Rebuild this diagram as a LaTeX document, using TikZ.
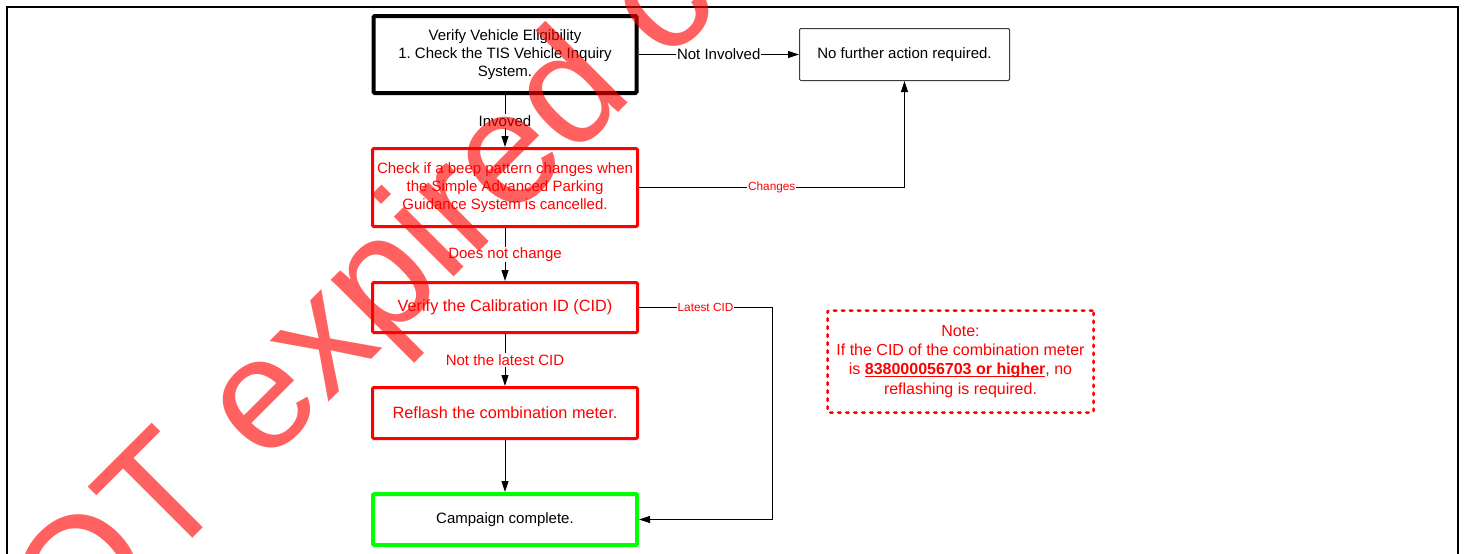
\documentclass[tikz,border=0pt]{standalone}
\usepackage{fontspec}
\setmainfont{Liberation Sans}
\usetikzlibrary{arrows.meta}
\definecolor{boxgreen}{RGB}{0,255,0}
\definecolor{thingray}{RGB}{60,60,60}
\frenchspacing
\newcommand\fsz[2]{\fontsize{#1}{#2}\selectfont}
\newcommand\myul[1]{\setbox0\hbox{#1}\rlap{\rule[-2.2pt]{\wd0}{1.4pt}}\box0}
\begin{document}
\begin{tikzpicture}[x=1pt,y=-1pt,
  box/.style={draw, rectangle, align=center, inner sep=2pt, rounded corners=1.2pt},
  blkbox/.style={box, line width=4pt, minimum width=263pt, minimum height=77pt, font=\fsz{15}{18}},
  redbox/.style={box, draw=red, text=red, line width=3pt, minimum width=265pt, font=\fsz{15}{18}},
  greenbox/.style={box, draw=boxgreen, line width=4pt, minimum width=264pt, minimum height=51pt, font=\fsz{15}{18}},
  thinbox/.style={box, draw=thingray, line width=1pt, minimum width=210pt, minimum height=52pt, font=\fsz{15}{18}},
  notebox/.style={box, draw=red, text=red, line width=2.5pt, line cap=round, dash pattern=on 2.5pt off 5.5pt, minimum width=266pt, minimum height=102pt, font=\fsz{16}{19.3}},
  lbl/.style={fill=white, inner sep=1pt, font=\fsz{15}{18}},
  smalllbl/.style={fill=white, inner sep=1pt, font=\fsz{11.8}{14}, text=red},
  arr/.style={line width=1pt, -{Triangle[length=11pt,width=7pt]}}
]
\useasboundingbox (0,0) rectangle (1465,554);
\fill[white] (0,0) rectangle (1465,554);
\draw[line width=2pt] (7,560) -- (7,7) -- (1458,7) -- (1458,560);

\node[blkbox] (b1) at (505,54.5) {Verify Vehicle Eligibility\\1. Check the TIS Vehicle Inquiry\\System.};
\node[redbox, minimum height=78pt] (b2) at (505,187.5) {Check if a beep pattern changes when\\the Simple Advanced Parking\\Guidance System is cancelled.};
\node[redbox, minimum height=50pt, font=\fsz{16.3}{19}] (b3) at (505,307.5) {Verify the Calibration ID (CID)};
\node[redbox, minimum height=51pt, font=\fsz{16.3}{19}] (b4) at (505,413) {Reflash the combination meter.};
\node[greenbox] (b5) at (505,519.5) {Campaign complete.};
\node[thinbox] (n1) at (904.5,54.5) {No further action required.};
\node[notebox] (note) at (960.5,361.5) {Note:\\If the CID of the combination meter\\is \myul{\textbf{838000056703 or higher}}, no\\reflashing is required.};

\coordinate (c1) at (772,307.5);
\coordinate (c2) at (772,519.5);

\draw[arr] (b1.east) -- node[lbl]{Not Involved} (n1.west);
\draw[arr] (b1.south) -- node[lbl]{Invoved} (b2.north);
\draw[arr] (b2.east) -| node[smalllbl, pos=0.25]{Changes} (n1.south);
\draw[arr] (b2.south) -- node[lbl, text=red]{Does not change} (b3.north);
\draw[arr] (b3.east) -- node[smalllbl]{Latest CID} (c1) -- (c2) -- (b5.east);
\draw[arr] (b3.south) -- node[lbl, text=red]{Not the latest CID} (b4.north);
\draw[arr] (b4.south) -- (b5.north);

\begin{scope}
\clip (0,0) rectangle (1465,554);
\node[anchor=base west, rotate=45, inner sep=0pt, text=red, text opacity=0.62, font=\fsz{160}{160}] (wm) at (-6,737) {NOT expired copy};
\end{scope}
\end{tikzpicture}
\end{document}
